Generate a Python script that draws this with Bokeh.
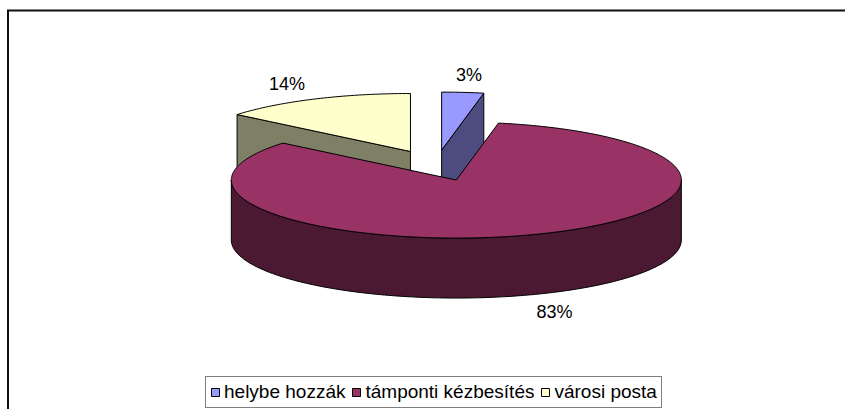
import numpy as np
from bokeh.plotting import figure
from bokeh.models import Range1d, Legend, LegendItem, ColumnDataSource
from bokeh.core.properties import value
from bokeh.embed import file_html
from bokeh.resources import INLINE

# ---- data ----
categories = ["helybe hozzák", "támponti kézbesítés", "városi posta"]
values = [3, 83, 14]
labels = ["3%", "83%", "14%"]
top_colors = ["#9999FF", "#993366", "#FFFFCC"]
side_colors = ["#4C4C7F", "#4C1933", "#7F7F66"]

# ---- layout (picture pixel coordinates) ----
W, H = 845, 409
CX, CY = 435.5, 165.0      # pie centre
RX, RY = 225.0, 58.0       # ellipse radii
DEPTH = 60.0               # pie thickness
EXPLODE = 60.0             # explode distance
LRX, LRY = 290.0, 75.0     # label ellipse
BORDER_L, BORDER_T = 7.5, 10.0

p = figure(width=W, height=H, output_backend="svg", toolbar_location=None,
           x_range=Range1d(0, W), y_range=Range1d(H, 0),
           x_axis_type=None, y_axis_type=None, min_border=0)
p.grid.visible = False
p.outline_line_color = None
p.background_fill_color = "white"
p.border_fill_color = "white"

# outer chart border (only its top and left edges fall inside the picture)
p.line([BORDER_L, BORDER_L, W + 20], [H + 20, BORDER_T, BORDER_T],
       line_color="#111111", line_width=2, line_join="miter")


def pt(c, a, rx=RX, ry=RY, dz=0.0):
    return c[0] + rx * np.sin(a), c[1] - ry * np.cos(a) + dz


total = float(sum(values))
slices = []
acc = 0.0
for i, v in enumerate(values):
    a0 = acc / total * 2 * np.pi
    acc += v
    a1 = acc / total * 2 * np.pi
    mid = (a0 + a1) / 2
    c = (CX + EXPLODE * np.sin(mid), CY - EXPLODE * (RY / RX) * np.cos(mid))
    slices.append((i, a0, a1, mid, c))

# back to front
slices.sort(key=lambda s: s[4][1])

top_renderers = {}
for i, a0, a1, mid, c in slices:
    faces_x, faces_y = [], []
    # start radial face
    if np.sin(a0) < -1e-6:
        px, py = pt(c, a0)
        faces_x.append([c[0], px, px, c[0]])
        faces_y.append([c[1], py, py + DEPTH, c[1] + DEPTH])
    # end radial face
    if np.sin(a1) > 1e-6:
        px, py = pt(c, a1)
        faces_x.append([c[0], px, px, c[0]])
        faces_y.append([c[1], py, py + DEPTH, c[1] + DEPTH])
    # outer curved side (front half only)
    s0, s1 = max(a0, np.pi / 2), min(a1, 3 * np.pi / 2)
    if s1 > s0:
        n = max(int((s1 - s0) / (2 * np.pi) * 360), 2)
        aa = np.linspace(s0, s1, n)
        tx, ty = pt(c, aa)
        bx, by = pt(c, aa[::-1], dz=DEPTH)
        faces_x.append(list(tx) + list(bx))
        faces_y.append(list(ty) + list(by))
    if faces_x:
        p.patches(faces_x, faces_y, fill_color=side_colors[i], line_color="black",
                  line_width=1, line_join="round")
    # top face
    n = max(int((a1 - a0) / (2 * np.pi) * 360), 2)
    aa = np.linspace(a0, a1, n)
    ax, ay = pt(c, aa)
    r = p.patch([c[0]] + list(ax), [c[1]] + list(ay), fill_color=top_colors[i],
                line_color="black", line_width=1, line_join="round")
    top_renderers[i] = r

# data labels
lx, ly = [], []
for i, a0, a1, mid, c in sorted(slices, key=lambda s: s[0]):
    x, y = pt(c, mid, LRX, LRY)
    if np.cos(mid) < 0:
        x, y = pt(c, mid, LRX, LRY + 5)
        y += DEPTH * (-np.cos(mid))
    lx.append(x)
    ly.append(y)
src = ColumnDataSource(dict(x=lx, y=ly, text=labels))
p.text(x="x", y="y", text="text", source=src, text_align="center", text_baseline="middle",
       text_font=value("Liberation Sans"), text_font_size="18px", text_color="black")

legend = Legend(items=[LegendItem(label=categories[i], renderers=[top_renderers[i]])
                       for i in range(len(categories))],
                orientation="horizontal", location=(205, 1),
                label_text_font="Liberation Sans", label_text_font_size="19px",
                label_text_color="black", glyph_width=10, glyph_height=10,
                label_standoff=4, spacing=6, padding=4, margin=0,
                border_line_color="black", border_line_width=1,
                background_fill_color="white", background_fill_alpha=1.0)
p.add_layout(legend)

open("out.html", "w").write(file_html(p, INLINE))
